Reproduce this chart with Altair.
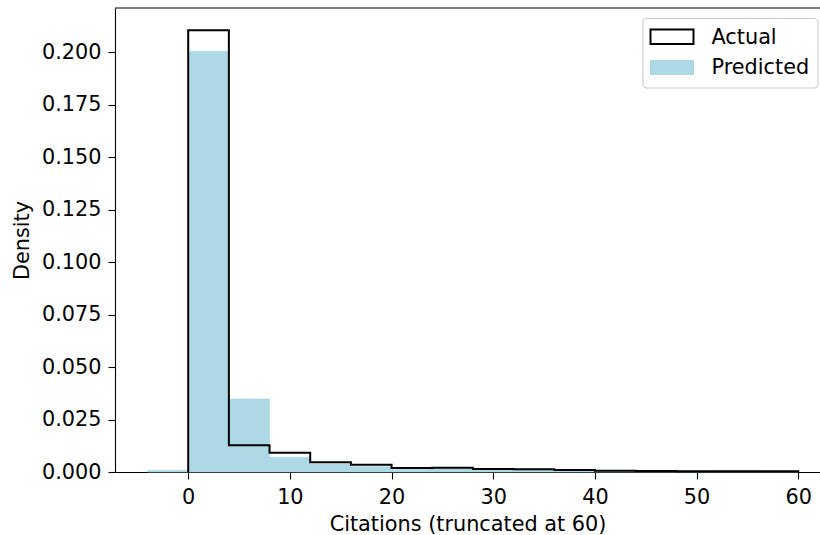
import altair as alt
import pandas as pd

# ---- data ----
pred_bin_start = [-4, 0, 4, 8, 12, 16, 20, 24, 28, 32, 36, 40, 44, 48, 52, 56]
pred_bin_end = [0, 4, 8, 12, 16, 20, 24, 28, 32, 36, 40, 44, 48, 52, 56, 60]
pred_density = [0.0008, 0.2005, 0.0348, 0.0070, 0.0038, 0.0025, 0.0013, 0.0015,
                0.0011, 0.0009, 0.0008, 0.0007, 0.0008, 0.0005, 0.0006, 0.0004]

act_edges = [0, 4, 8, 12, 16, 20, 24, 28, 32, 36, 40, 44, 48, 52, 56, 60]
act_density = [0.2105, 0.0127, 0.0092, 0.0047, 0.0035, 0.0019, 0.0020, 0.0014,
               0.0013, 0.0010, 0.0006, 0.0005, 0.0004, 0.0003, 0.0004]

x_ticks = [0, 10, 20, 30, 40, 50, 60]
y_ticks = [0, 0.025, 0.05, 0.075, 0.1, 0.125, 0.15, 0.175, 0.2]

FONT = "DejaVu Sans"
FS = 20.8
W, H = 705, 464

# step outline points for the "Actual" histogram
sx = [act_edges[0]] + act_edges[:-1] + [act_edges[-1], act_edges[-1]]
sy = [0] + act_density + [act_density[-1], 0]
step_df = pd.DataFrame({"x": sx, "y": sy, "i": list(range(len(sx)))})

pred_df = pd.DataFrame({"x0": pred_bin_start, "x1": pred_bin_end, "density": pred_density})

xscale = alt.Scale(domain=[-7.2, 62.14], nice=False, zero=False)
yscale = alt.Scale(domain=[0, 0.2211], nice=False, zero=True)

x_axis = alt.Axis(values=x_ticks, format="d", title="Citations (truncated at 60)",
                  grid=False, labelFontSize=FS, titleFontSize=FS, labelFont=FONT, titleFont=FONT,
                  titleFontWeight="normal", labelColor="black", titleColor="black",
                  domainColor="black", tickColor="black", domainWidth=1.1, tickWidth=1.1,
                  tickSize=7, labelPadding=8, titlePadding=8, labelFlush=False, labelOverlap=False)
y_axis = alt.Axis(values=y_ticks, format=".3f", title="Density",
                  grid=False, labelFontSize=FS, titleFontSize=FS, labelFont=FONT, titleFont=FONT,
                  titleFontWeight="normal", labelColor="black", titleColor="black",
                  domainColor="black", tickColor="black", domainWidth=1.1, tickWidth=1.1,
                  tickSize=7, labelPadding=7, titlePadding=9, labelFlush=False, labelOverlap=False)

bars = alt.Chart(pred_df).mark_rect(color="#add8e6", stroke="#add8e6", strokeWidth=0.6).encode(
    x=alt.X("x0:Q", scale=xscale, axis=x_axis),
    x2="x1:Q",
    y=alt.Y("density:Q", scale=yscale, axis=y_axis),
    y2=alt.datum(0),
)

step = alt.Chart(step_df).mark_line(color="black", strokeWidth=2, interpolate="step-after").encode(
    x=alt.X("x:Q", scale=xscale),
    y=alt.Y("y:Q", scale=yscale),
    order="i:Q",
)

top_border = alt.Chart(pd.DataFrame({"a": [0]})).mark_rule(color="black", strokeWidth=1.1).encode(
    x=alt.value(0), x2=alt.value(W), y=alt.value(0)
)

# legend (drawn as decoration in pixel space)
leg_df = pd.DataFrame({"a": [0]})
leg_box = alt.Chart(leg_df).mark_rect(fill="white", stroke="#cccccc", strokeWidth=1.1,
                                      cornerRadius=4).encode(
    x=alt.value(528), x2=alt.value(703), y=alt.value(10.5), y2=alt.value(80)
)
leg_act = alt.Chart(leg_df).mark_rect(fill="white", stroke="black", strokeWidth=2).encode(
    x=alt.value(535.5), x2=alt.value(578.5), y=alt.value(21.5), y2=alt.value(36)
)
leg_pred = alt.Chart(leg_df).mark_rect(fill="#add8e6").encode(
    x=alt.value(535), x2=alt.value(579), y=alt.value(52), y2=alt.value(67)
)
leg_t1 = alt.Chart(leg_df).mark_text(text="Actual", font=FONT, fontSize=FS, align="left",
                                     baseline="alphabetic", color="black").encode(
    x=alt.value(596.5), y=alt.value(36.3)
)
leg_t2 = alt.Chart(leg_df).mark_text(text="Predicted", font=FONT, fontSize=FS, align="left",
                                     baseline="alphabetic", color="black").encode(
    x=alt.value(596.5), y=alt.value(66.3)
)

chart = alt.layer(bars, step, top_border, leg_box, leg_act, leg_pred, leg_t1, leg_t2).properties(
    width=W, height=H,
    autosize=alt.AutoSizeParams(type="none"),
    padding={"left": 115, "top": 8, "right": 0, "bottom": 63},
    background="white",
).configure_view(stroke=None)

chart.save("out.html", embed_options={"renderer": "svg", "actions": False})
